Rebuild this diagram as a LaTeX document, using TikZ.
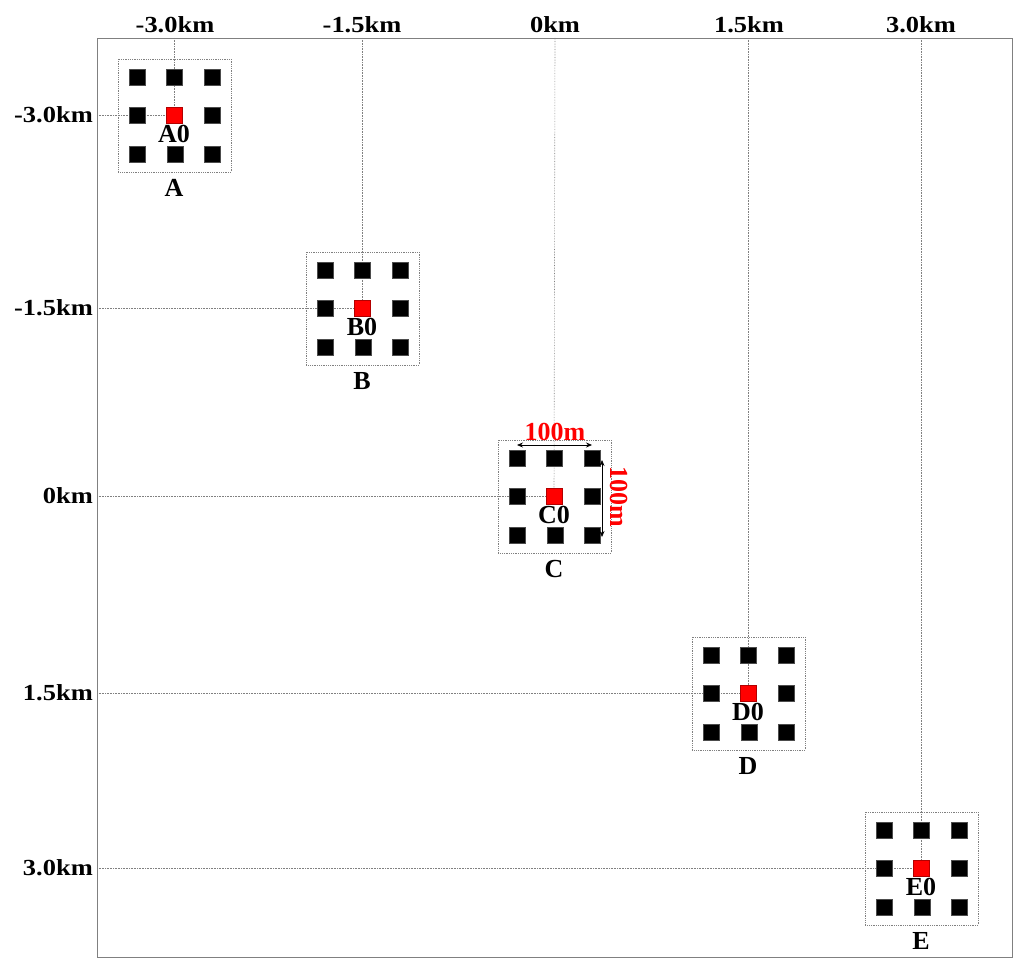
\documentclass[tikz,border=0pt]{standalone}
\usepackage{fontspec}
\setmainfont{Liberation Serif}
\newfontfamily\axisfont{Liberation Serif}[FakeStretch=1.15]
\usetikzlibrary{arrows.meta,calc}
\tikzset{
  lbl/.style={font=\axisfont\fontsize{23}{23}\selectfont\bfseries, inner sep=0pt},
  clbl/.style={font=\fontsize{26}{26}\selectfont\bfseries, inner sep=0pt},
  guide/.style={draw=gray, densely dotted, line width=0.6pt},
  clbox/.style={draw=gray, densely dotted, line width=0.8pt},
  blk/.style={fill=black, draw=gray!60!black, line width=0.3pt, minimum size=16pt, inner sep=0pt},
  redsq/.style={fill=red, draw=red!70!black, line width=0.3pt, minimum size=16pt, inner sep=0pt},
  dim/.style={line width=0.7pt, {Stealth[length=6pt,width=5pt]}-{Stealth[length=6pt,width=5pt]}},
  redlbl/.style={font=\fontsize{26}{26}\selectfont\bfseries, text=red, inner sep=0pt},
}
\newcommand{\mycluster}[3]{%
  % #1 name, #2 x, #3 y
  \coordinate (#1c) at (#2,#3);
  \draw[guide] (#1top) -- (#1c);
  \draw[guide] (#1left) -- (#1c);
  \draw[clbox] ($(#1c)+(-56,-56)$) rectangle ($(#1c)+(57,57)$);
  \node[blk] (#1nw) at ($(#1c)+(-37,-37.5)$) {};
  \node[blk] (#1n)  at ($(#1c)+(0,-37.5)$) {};
  \node[blk] (#1ne) at ($(#1c)+(38,-37.5)$) {};
  \node[blk] (#1w)  at ($(#1c)+(-37,0)$) {};
  \node[redsq] (#1zero) at (#1c) {};
  \node[blk] (#1e)  at ($(#1c)+(38,0)$) {};
  \node[blk] (#1sw) at ($(#1c)+(-37,39)$) {};
  \node[blk] (#1s)  at ($(#1c)+(1,39)$) {};
  \node[blk] (#1se) at ($(#1c)+(38,39)$) {};
  \node[clbl] (#1zl) at ($(#1c)+(0,19)$) {#10};
  \node[clbl] (#1l) at ($(#1c)+(0,73)$) {#1};
}
\begin{document}
\begin{tikzpicture}[x=1pt,y=-1pt]
\useasboundingbox (0,0) rectangle (1024,971);
\draw[gray, line width=0.8pt] (97,38) rectangle (1012,957);
% top axis labels
\node[lbl] (tA) at (175,25) {-3.0km};
\node[lbl] (tB) at (362,25) {-1.5km};
\node[lbl] (tC) at (555,25) {0km};
\node[lbl] (tD) at (749,25) {1.5km};
\node[lbl] (tE) at (921,25) {3.0km};
% left axis labels
\node[lbl, anchor=east] (lA) at (93,115) {-3.0km};
\node[lbl, anchor=east] (lB) at (93,308) {-1.5km};
\node[lbl, anchor=east] (lC) at (93,496) {0km};
\node[lbl, anchor=east] (lD) at (93,693) {1.5km};
\node[lbl, anchor=east] (lE) at (93,868) {3.0km};
% guide endpoints on frame
\coordinate (Atop) at (174,38); \coordinate (Aleft) at (97,115);
\coordinate (Btop) at (362,38); \coordinate (Bleft) at (97,308);
\coordinate (Ctop) at (555,38); \coordinate (Cleft) at (97,496);
\coordinate (Dtop) at (748,38); \coordinate (Dleft) at (97,693);
\coordinate (Etop) at (921,38); \coordinate (Eleft) at (97,868);
\mycluster{A}{174}{115}
\mycluster{B}{362}{308}
\mycluster{C}{554}{496}
\mycluster{D}{748}{693}
\mycluster{E}{921}{868}
% dimensions in C
\coordinate (h1) at (517,445); \coordinate (h2) at (592,445);
\draw[dim] (h1) -- (h2);
\node[redlbl] (hl) at (555,432) {100m};
\coordinate (v1) at (602,460); \coordinate (v2) at (602,537);
\draw[dim] (v1) -- (v2);
\node[redlbl, rotate=-90] (vl) at (619,497) {100m};
\end{tikzpicture}
\end{document}
